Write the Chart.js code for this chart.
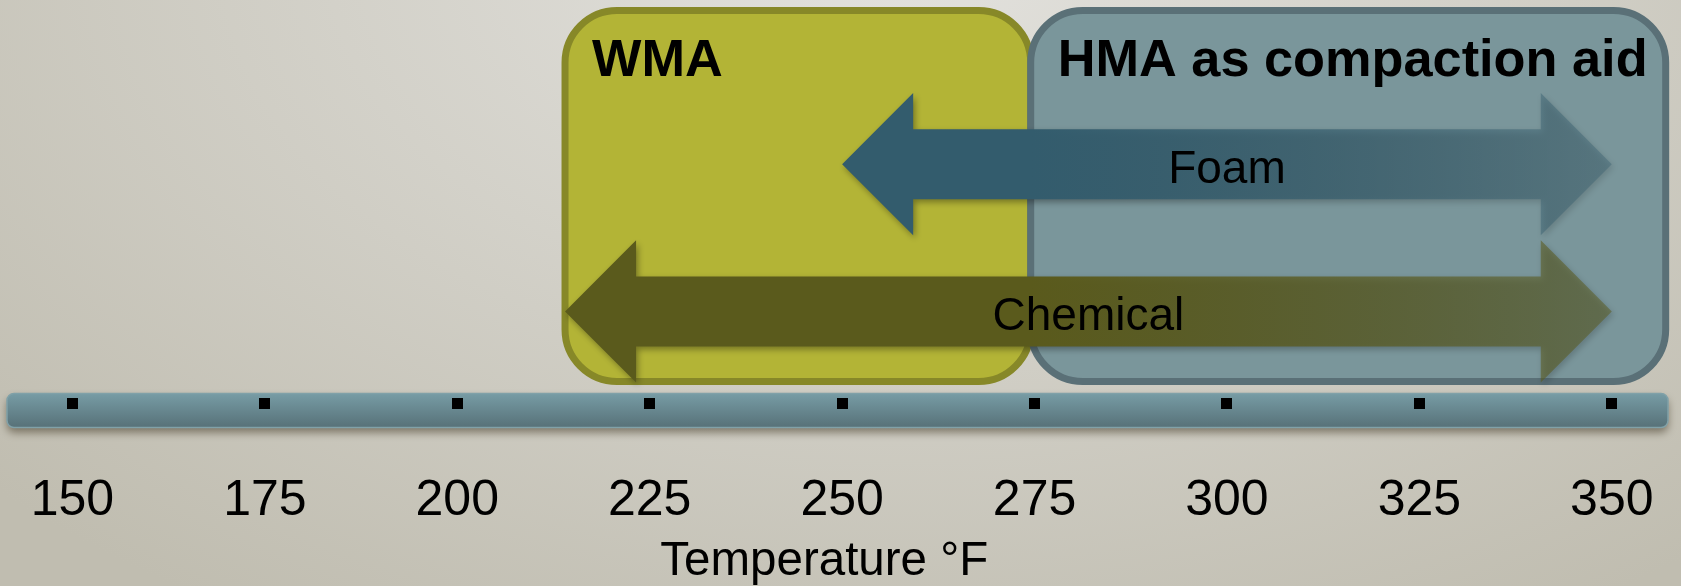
<!DOCTYPE html>
<html>
<head>
<meta charset="utf-8">
<title>WMA and HMA temperature ranges</title>
<script src="https://cdn.jsdelivr.net/npm/chart.js@4.4.1/dist/chart.umd.min.js"></script>
<style>
  html, body { margin: 0; padding: 0; background: #d4d2c9; }
  #wrap { width: 1681px; height: 586px; }
</style>
</head>
<body>
<div id="wrap"><canvas id="chart" width="1681" height="586"></canvas></div>
<script>
// Temperature axis (°F)
const TEMP_TICKS = [150, 175, 200, 225, 250, 275, 300, 325, 350];
const AXIS_MIN = 141.5;
const AXIS_MAX = 357.3;

// Mix temperature zones
const ZONE_NAMES = ['WMA', 'HMA as compaction aid'];
const ZONE_FROM = [214, 274.5];
const ZONE_TO = [274.5, 357];

// Technologies and the temperature span each one covers
const METHODS = ['Foam', 'Chemical'];
const METHOD_FROM = [250, 214];
const METHOD_TO = [350, 350];

const FONT = "'Liberation Sans', Arial, Helvetica, sans-serif";
Chart.defaults.font.family = FONT;

const ZONE_STYLE = [
  { fill: '#b3b436', stroke: '#878828' },
  { fill: '#7a969b', stroke: '#5a7077' }
];
const ARROW_STYLE = [
  { rgb: [51, 92, 109], fadeTo: 0.36 },
  { rgb: [90, 90, 28], fadeTo: 0.5 }
];

function rgba(c, a) { return 'rgba(' + c[0] + ',' + c[1] + ',' + c[2] + ',' + a + ')'; }

// Page backdrop, zone panels and the temperature strip with its tick squares
const backdropPlugin = {
  id: 'backdrop',
  beforeDraw(chart) {
    const ctx = chart.ctx;
    const W = chart.width, H = chart.height;
    const xs = chart.scales.x;
    const area = chart.chartArea;

    // soft elliptical backdrop, lightest near the top centre
    ctx.save();
    const cx = 900, cy = -50, k = 0.625;
    ctx.translate(cx, cy);
    ctx.scale(1, k);
    const bg = ctx.createRadialGradient(0, 0, 0, 0, 0, 1250);
    bg.addColorStop(0, 'rgb(227,226,222)');
    bg.addColorStop(1, 'rgb(192,189,176)');
    ctx.fillStyle = bg;
    ctx.fillRect(-cx, -cy / k, W, H / k);
    ctx.restore();

    // zone panels
    const top = 10.5, bottom = area.bottom - 3.5;
    ZONE_NAMES.forEach((name, i) => {
      const x0 = xs.getPixelForValue(ZONE_FROM[i]);
      const x1 = xs.getPixelForValue(ZONE_TO[i]);
      ctx.save();
      ctx.beginPath();
      ctx.roundRect(x0, top, x1 - x0, bottom - top, 52);
      ctx.fillStyle = ZONE_STYLE[i].fill;
      ctx.fill();
      ctx.lineWidth = 7;
      ctx.strokeStyle = ZONE_STYLE[i].stroke;
      ctx.stroke();
      ctx.restore();
    });

    // temperature strip
    const sTop = xs.top + 8.5, sBot = xs.top + 42.5;
    ctx.save();
    ctx.beginPath();
    ctx.roundRect(xs.left, sTop, xs.right - xs.left, sBot - sTop, 7);
    const sg = ctx.createLinearGradient(0, sTop, 0, sBot);
    sg.addColorStop(0, '#779ca5');
    sg.addColorStop(1, '#577178');
    ctx.fillStyle = sg;
    ctx.shadowColor = 'rgba(60,50,30,0.55)';
    ctx.shadowBlur = 8;
    ctx.shadowOffsetY = 5;
    ctx.fill();
    ctx.shadowColor = 'rgba(0,0,0,0)';
    ctx.lineWidth = 1.5;
    ctx.strokeStyle = '#80a1a8';
    ctx.stroke();
    ctx.restore();

    // tick squares on the strip
    ctx.save();
    ctx.fillStyle = '#000';
    xs.ticks.forEach(t => {
      const px = xs.getPixelForValue(t.value);
      ctx.fillRect(Math.round(px - 5.5), Math.round(xs.top + 12.5), 11, 11);
    });
    ctx.restore();
  }
};

// Double-headed arrows for each technology, plus zone and arrow captions
const arrowPlugin = {
  id: 'arrows',
  afterDatasetsDraw(chart) {
    const ctx = chart.ctx;
    const xs = chart.scales.x;
    const meta = chart.getDatasetMeta(0);
    const fadeStartPx = xs.getPixelForValue(ZONE_FROM[1]);

    meta.data.forEach((bar, i) => {
      const p = bar.getProps(['x', 'y', 'base', 'height'], true);
      const left = Math.min(p.x, p.base), right = Math.max(p.x, p.base);
      const y = p.y;
      const sh = p.height / 2, hh = p.height * 1.015, hl = hh;
      const st = ARROW_STYLE[i];

      ctx.save();
      ctx.beginPath();
      ctx.moveTo(left, y);
      ctx.lineTo(left + hl, y - hh);
      ctx.lineTo(left + hl, y - sh);
      ctx.lineTo(right - hl, y - sh);
      ctx.lineTo(right - hl, y - hh);
      ctx.lineTo(right, y);
      ctx.lineTo(right - hl, y + hh);
      ctx.lineTo(right - hl, y + sh);
      ctx.lineTo(left + hl, y + sh);
      ctx.lineTo(left + hl, y + hh);
      ctx.closePath();
      const g = ctx.createLinearGradient(left, 0, right, 0);
      const t0 = Math.min(0.95, Math.max(0, (fadeStartPx - left) / (right - left)));
      g.addColorStop(0, rgba(st.rgb, 1));
      g.addColorStop(t0, rgba(st.rgb, 1));
      g.addColorStop(1, rgba(st.rgb, st.fadeTo));
      ctx.fillStyle = g;
      ctx.shadowColor = 'rgba(0,0,0,0.35)';
      ctx.shadowBlur = 6;
      ctx.shadowOffsetX = 2;
      ctx.shadowOffsetY = 3;
      ctx.fill();
      ctx.restore();

      ctx.save();
      ctx.font = '46px ' + FONT;
      ctx.fillStyle = '#000';
      ctx.textAlign = 'center';
      ctx.textBaseline = 'alphabetic';
      ctx.fillText(chart.data.labels[i], (left + right) / 2, y + 18.5);
      ctx.restore();
    });

    ctx.save();
    ctx.font = 'bold 52.3px ' + FONT;
    ctx.fillStyle = '#000';
    ctx.textAlign = 'left';
    ctx.textBaseline = 'alphabetic';
    ZONE_NAMES.forEach((name, i) => {
      const x0 = xs.getPixelForValue(ZONE_FROM[i]);
      ctx.fillText(name, x0 + 27, 75.5);
    });
    ctx.restore();
  }
};

new Chart(document.getElementById('chart'), {
  type: 'bar',
  data: {
    labels: METHODS,
    datasets: [{
      label: 'Temperature range',
      data: METHODS.map((m, i) => [METHOD_FROM[i], METHOD_TO[i]]),
      backgroundColor: 'rgba(0,0,0,0)',
      borderWidth: 0,
      barThickness: 70
    }]
  },
  options: {
    indexAxis: 'y',
    responsive: false,
    animation: false,
    events: [],
    layout: { padding: { top: 90.5, left: 7, right: 13, bottom: 0 } },
    plugins: {
      legend: { display: false },
      tooltip: { enabled: false },
      title: { display: false }
    },
    scales: {
      x: {
        type: 'linear',
        position: 'bottom',
        min: AXIS_MIN,
        max: AXIS_MAX,
        bounds: 'data',
        beginAtZero: false,
        afterBuildTicks: s => { s.ticks = TEMP_TICKS.map(v => ({ value: v })); },
        grid: { display: false, drawTicks: true, tickLength: 86.5 },
        border: { display: false },
        ticks: {
          padding: 0,
          color: '#000',
          font: { size: 50, lineHeight: 1.2 },
          maxRotation: 0,
          autoSkip: false,
          callback: v => String(v)
        },
        title: {
          display: true,
          // trailing spaces nudge the centred caption slightly left
          text: 'Temperature °F  ',
          color: '#000',
          font: { size: 47.5, lineHeight: 1 },
          padding: { top: 7, bottom: 0 }
        }
      },
      y: {
        type: 'category',
        display: false,
        offset: true,
        grid: { display: false }
      }
    }
  },
  plugins: [backdropPlugin, arrowPlugin]
});
</script>
</body>
</html>
